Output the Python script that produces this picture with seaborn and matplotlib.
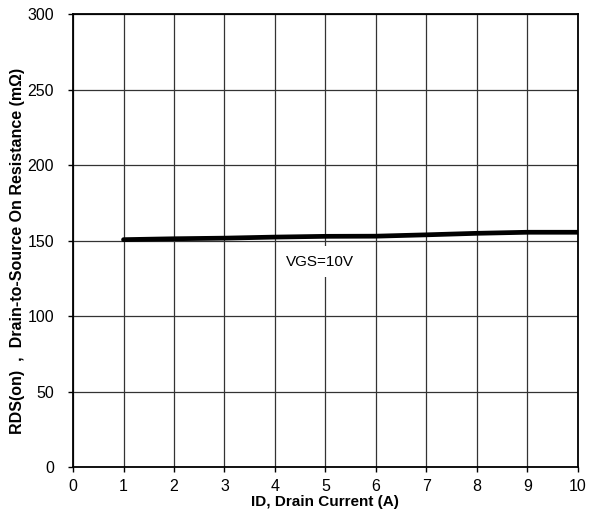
import matplotlib
matplotlib.use("Agg")
import matplotlib.pyplot as plt
import seaborn as sns
import pandas as pd

drain_current = [1, 2, 3, 4, 5, 6, 7, 8, 9, 10]
rds_on = [150.6, 151.2, 151.6, 152.3, 152.8, 152.9, 153.8, 154.8, 155.5, 155.5]
x_ticks = [0, 1, 2, 3, 4, 5, 6, 7, 8, 9, 10]
y_ticks = [0, 50, 100, 150, 200, 250, 300]

sns.set_theme(style="white")
plt.rcParams['font.family'] = ['Liberation Sans Narrow', 'Liberation Sans', 'DejaVu Sans']

df = pd.DataFrame({"ID": drain_current, "RDS": rds_on})

fig = plt.figure(figsize=(5.89, 5.29), dpi=100)
ax = fig.add_axes([0.124, 0.117, 0.857, 0.8565])
ax.set_facecolor("white")

sns.lineplot(data=df, x="ID", y="RDS", ax=ax, color="black", linewidth=3.4, zorder=3)

ax.set_xlim(0, 10)
ax.set_ylim(0, 300)
ax.set_xticks(x_ticks)
ax.set_yticks(y_ticks)
ax.grid(True, color="#333333", linewidth=0.9, zorder=0)
for s in ax.spines.values():
    s.set_color("black")
    s.set_linewidth(1.3)
    s.set_visible(True)
ax.tick_params(axis="both", direction="out", length=3.6, width=1, color="black",
               labelsize=11.5, labelcolor="black", left=True, bottom=True)
ax.tick_params(axis="y", pad=10)
ax.tick_params(axis="x", pad=5)
ax.set_xlabel("ID, Drain Current (A)", fontsize=11, fontweight="bold", color="black", labelpad=1)
ax.set_ylabel("RDS(on)  ,  Drain-to-Source On Resistance (mΩ)", fontsize=11.5,
              fontweight="bold", color="black", labelpad=2)
ax.yaxis.label.set_y(0.477)

ax.text(4.9, 136, "VGS=10V", fontsize=11, ha="center", va="center", color="black",
        bbox=dict(facecolor="white", edgecolor="none", pad=6), zorder=4)

fig.savefig("out.png", dpi=100)
